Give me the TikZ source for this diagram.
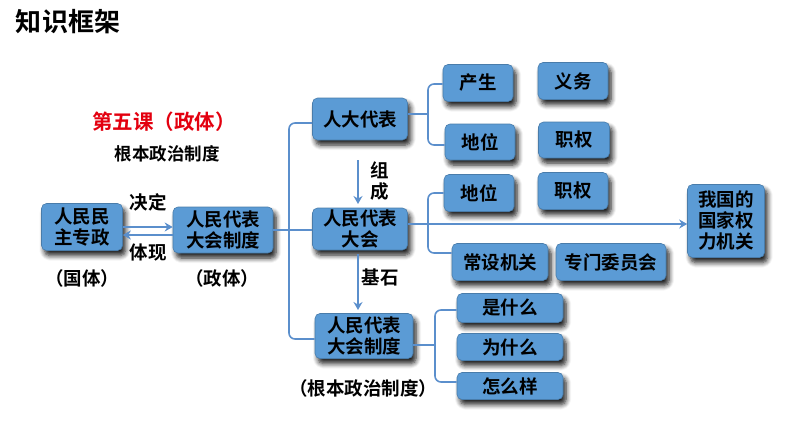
\documentclass[tikz,border=0pt]{standalone}
\usepackage{fontspec}
\setmainfont{Noto Sans CJK SC}[BoldFont={Noto Sans CJK SC Bold}]
\usetikzlibrary{shadows.blur,arrows.meta}
\definecolor{boxblue}{HTML}{5B9BD5}
\definecolor{lineblue}{HTML}{5B8FCC}
\definecolor{titlered}{HTML}{E3000F}
\tikzset{
  bx/.style={rounded corners=5pt, fill=boxblue, draw=boxblue!80!black, line width=0.6pt,
    blur shadow={shadow xshift=3pt, shadow yshift=-5pt, shadow blur radius=5pt, shadow blur steps=6, shadow opacity=90},
    font=\fontsize{18.5}{21}\selectfont\bfseries, align=center, inner sep=0pt, text=black},
  ln/.style={draw=lineblue, line width=1.6pt},
  arr/.style={ln, -{Stealth[length=8pt,width=9pt]}},
  lbl/.style={font=\fontsize{18.5}{21}\selectfont\bfseries, text=black, inner sep=0pt},
}
\begin{document}
\begin{tikzpicture}[x=1pt,y=-1pt]
\useasboundingbox (0,0) rectangle (794,447);
% title
\node[font=\fontsize{26}{28}\selectfont\bfseries, inner sep=0pt] (title) at (68,22) {知识框架};
\node[font=\fontsize{20.5}{23}\selectfont\bfseries, text=titlered, inner sep=0pt] (lesson) at (164,122) {第五课（政体）};
\node[font=\fontsize{17.5}{20}\selectfont\bfseries, inner sep=0pt] (sub) at (167,154) {根本政治制度};
% boxes
\node[bx, minimum width=81pt, minimum height=47pt] (rmmz) at (82,227) {人民民\\主专政};
\node[bx, minimum width=100pt, minimum height=46pt] (zd1) at (223,230) {人民代表\\大会制度};
\node[lbl] (gt) at (82,278) {（国体）};
\node[lbl] (zt) at (222,278) {（政体）};
\node[bx, minimum width=95pt, minimum height=42pt] (rddb) at (360,119) {人大代表};
\node[bx, minimum width=95pt, minimum height=42pt] (rdh) at (360,229) {人民代表\\大会};
\node[bx, minimum width=98pt, minimum height=45pt] (zd2) at (364,336) {人民代表\\大会制度};
\node[lbl] (gb) at (363,388) {（根本政治制度）};
\node[bx, minimum width=70pt, minimum height=37pt] (cs) at (478,83) {产生};
\node[bx, minimum width=70pt, minimum height=37pt] (yw) at (573,81) {义务};
\node[bx, minimum width=70pt, minimum height=36pt] (dw1) at (480,142) {地位};
\node[bx, minimum width=71pt, minimum height=36pt] (zq1) at (574,140) {职权};
\node[bx, minimum width=70pt, minimum height=37pt] (dw2) at (479,193) {地位};
\node[bx, minimum width=70pt, minimum height=37pt] (zq2) at (573,191) {职权};
\node[bx, minimum width=96pt, minimum height=37pt] (csjg) at (500,262) {常设机关};
\node[bx, minimum width=110pt, minimum height=37pt] (zmwy) at (611,262) {专门委员会};
\node[bx, minimum width=77pt, minimum height=73pt] (gjql) at (726,221) {我国的\\国家权\\力机关};
\node[bx, minimum width=106pt, minimum height=29pt] (ssm) at (510,308) {是什么};
\node[bx, minimum width=106pt, minimum height=27pt] (wsm) at (510,347) {为什么};
\node[bx, minimum width=106pt, minimum height=27pt] (zmy) at (510,386) {怎么样};
% left double arrows
\draw[arr] (rmmz.east |- 0,227) -- (zd1.west |- 0,227);
\draw[arr] (zd1.west |- 0,235) -- (rmmz.east |- 0,235);
\node[lbl] (jd) at (148,202) {决定};
\node[lbl] (tx) at (148,253) {体现};
% main bracket
\coordinate (bx0) at (289,230);
\draw[ln] (zd1.east |- bx0) -- (bx0);
\draw[ln, rounded corners=6pt] (rddb.west |- 0,123) -- (289,123) -- (289,339) -- (zd2.west |- 0,339);
\draw[ln] (bx0) -- (rdh.west |- bx0);
% vertical arrows
\draw[arr] (358,160) -- (358,204);
\node[lbl, align=center] (zc) at (380,181) {组\\成};
\draw[arr] (rdh.south -| 358,0) ++(0,4) -- (358,310);
\node[lbl] (js) at (380,277) {基石};
% bracket rddb
\coordinate (b1) at (428,114);
\draw[ln] (rddb.east |- b1) -- (b1);
\draw[ln, rounded corners=6pt] (cs.west |- 0,84) -- (428,84) -- (428,145) -- (dw1.west |- 0,145);
% bracket rdh
\coordinate (b2) at (428,224);
\draw[ln, rounded corners=6pt] (dw2.west |- 0,193) -- (428,193) -- (428,253) -- (csjg.west |- 0,253);
\draw[arr] (rdh.east |- b2) -- (gjql.west |- b2);
% bracket zd2
\coordinate (b3) at (435,345);
\draw[ln] (zd2.east |- b3) -- (b3);
\draw[ln, rounded corners=6pt] (ssm.west |- 0,310) -- (435,310) -- (435,382) -- (zmy.west |- 0,382);
\end{tikzpicture}
\end{document}
